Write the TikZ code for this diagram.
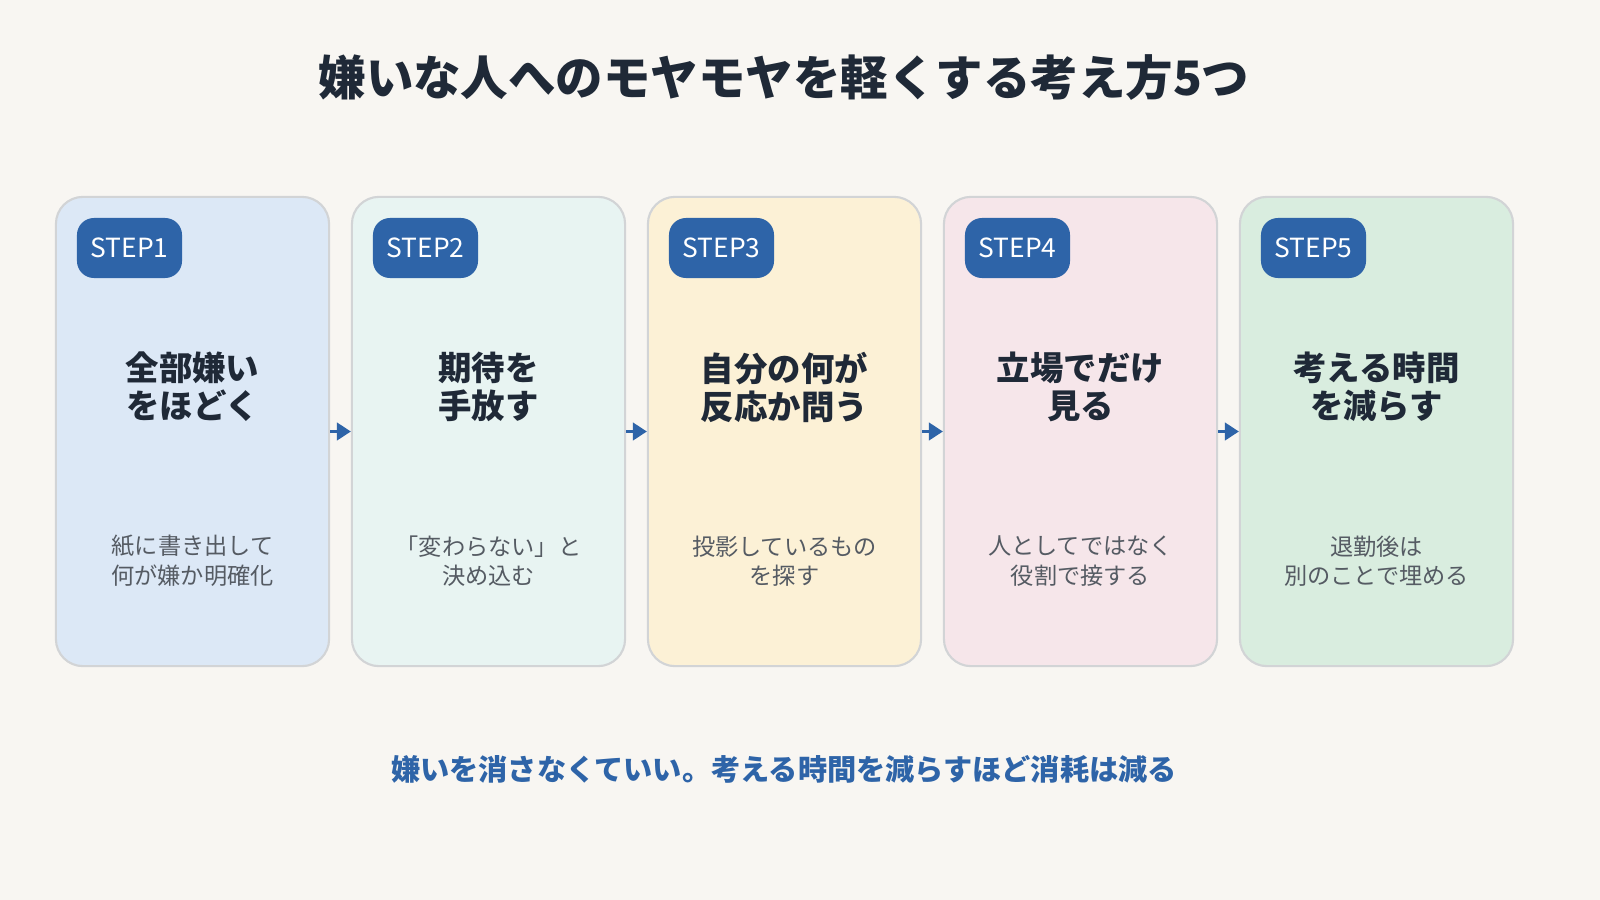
\documentclass[tikz,border=0pt]{standalone}
\usepackage{fontspec}
\setmainfont{Noto Sans CJK JP}
\usetikzlibrary{arrows.meta}
\definecolor{bgcol}{HTML}{F8F6F2}
\definecolor{inkcol}{HTML}{1F2937}
\definecolor{badgecol}{HTML}{2E64A8}
\definecolor{bodycol}{HTML}{555B63}
\definecolor{edgecol}{HTML}{D2D4D6}
\definecolor{c1}{HTML}{DCE8F6}
\definecolor{c2}{HTML}{E8F4F2}
\definecolor{c3}{HTML}{FCF1D6}
\definecolor{c4}{HTML}{F6E6EA}
\definecolor{c5}{HTML}{D9EDDF}
\begin{document}
\begin{tikzpicture}[x=0.01cm, y=-0.01cm,
  card style/.style={draw=edgecol, line width=0.6pt, rounded corners=0.27cm, minimum width=2.73cm, minimum height=4.69cm, inner sep=0pt},
  badge style/.style={fill=badgecol, text=white, rounded corners=0.17cm, minimum width=1.05cm, minimum height=0.6cm, inner sep=0pt, font=\fontsize{7.5}{9}\selectfont},
  head style/.style={text=inkcol, align=center, font=\bfseries\fontsize{9.5}{10.8}\selectfont},
  body style/.style={text=bodycol, align=center, font=\fontsize{6.6}{8.4}\selectfont}]
	\fill[bgcol] (0,0) rectangle (1600,900);
	\node[text=inkcol, font=\bfseries\fontsize{13.5}{16}\selectfont] (title) at (784,78) {嫌いな人へのモヤモヤを軽くする考え方5つ};
	\foreach \i/\h/\b in {1/全部嫌い\\をほどく/紙に書き出して\\何が嫌か明確化,
	                      2/期待を\\手放す/「変わらない」と\\決め込む,
	                      3/自分の何が\\反応か問う/投影しているもの\\を探す,
	                      4/立場でだけ\\見る/人としてではなく\\役割で接する,
	                      5/考える時間\\を減らす/退勤後は\\別のことで埋める} {
		\node[card style, fill=c\i] (S\i) at ({192.5+296*(\i-1)},431.5) {};
		\node[badge style] (B\i) at ({129.5+296*(\i-1)},248) {STEP\i};
		\node[head style] (H\i) at ({192.5+296*(\i-1)},387) {\h};
		\node[body style] (D\i) at ({192.5+296*(\i-1)},561) {\b};
	}
	\foreach \x [evaluate=\x as \y using int(\x+1)] in {1,...,4}
	\draw[badgecol, line width=0.8pt, -{Triangle[length=4pt,width=5pt]}] (S\x.east) -- (S\y.west);
	\node[text=badgecol, font=\bfseries\fontsize{8.3}{10}\selectfont] (foot) at (784,769) {嫌いを消さなくていい。考える時間を減らすほど消耗は減る};
\end{tikzpicture}
\end{document}
